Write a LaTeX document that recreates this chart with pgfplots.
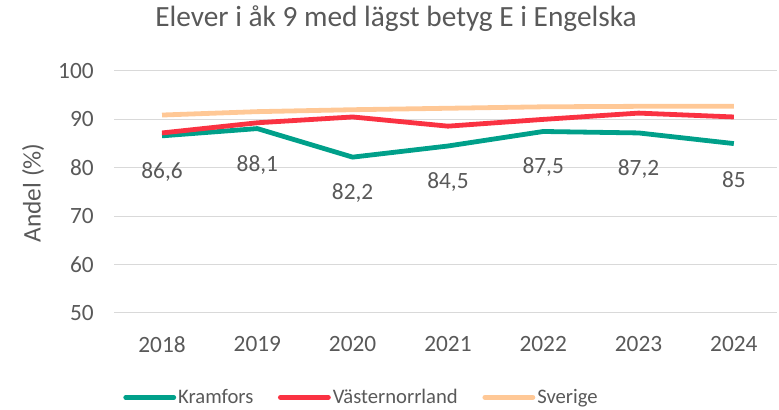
\documentclass[border=0pt]{standalone}
\usepackage{pgfplots}
\pgfplotsset{compat=1.18}
\usepackage{fontspec}
\setmainfont{Carlito}
\definecolor{kram}{RGB}{0,160,138}
\definecolor{vast}{RGB}{250,50,66}
\definecolor{sve}{RGB}{255,200,150}
\definecolor{txt}{RGB}{89,89,89}
\definecolor{gridc}{RGB}{217,217,217}
\newcommand{\tfont}{\fontsize{17.5}{20}\selectfont}
\newcommand{\lfont}{\fontsize{15.5}{18}\selectfont}
\begin{document}
\begin{tikzpicture}
\begin{axis}[
  scale only axis, width=497pt, height=181.5pt,
  xmin=-0.5, xmax=6.453, ymin=50, ymax=100,
  axis line style={draw=none},
  ytick={50,60,...,100},
  ymajorgrids, grid style={gridc, line width=0.75pt},
  xtick={0,...,6}, xticklabels={2018,2019,2020,2021,2022,2023,2024},
  major tick length=0pt,
  tick label style={font=\tfont, text=txt},
  /pgf/number format/assume math mode=true,
  yticklabel style={xshift=-12pt},
  xticklabel style={yshift=-14pt},
  ylabel={Andel (\%)},
  ylabel style={at={([xshift=-61pt]rel axis cs:0,0.496)}, anchor=center, font=\fontsize{19}{22}\selectfont, text=txt},
  title={Elever i åk 9 med lägst betyg E i Engelska},
  title style={at={([yshift=33pt]rel axis cs:0.425,1)}, anchor=center, font=\fontsize{22}{26}\selectfont, text=txt},
  legend style={at={(rel axis cs:0.373,-0.349)}, anchor=center, draw=none, fill=none,
    legend columns=3, font=\lfont, text=txt,
    nodes={inner sep=1.5pt},
    /tikz/every even column/.append style={column sep=17pt}},
  legend image code/.code={\draw[#1, line cap=round] (0pt,0pt) -- (36pt,0pt);},
  clip=false,
]
\addplot[kram, line width=3.6pt, line join=round,
  nodes near coords, point meta=explicit symbolic,
  every node near coord/.style={anchor=center, yshift=-27pt, font=\tfont, text=txt}]
  table[meta=lab] {
x y lab
0 86.6 86,6
1 88.1 88,1
2 82.2 82,2
3 84.5 84,5
4 87.5 87,5
5 87.2 87,2
6 85.0 85
};
\addlegendentry{Kramfors}
\addplot[vast, line width=3.6pt, line join=round] coordinates {
(0,87.2) (1,89.3) (2,90.5) (3,88.6) (4,90.0) (5,91.3) (6,90.5)};
\addlegendentry{Västernorrland}
\addplot[sve, line width=3.6pt, line join=round] coordinates {
(0,90.9) (1,91.6) (2,92.0) (3,92.3) (4,92.6) (5,92.7) (6,92.7)};
\addlegendentry{Sverige}
\coordinate (tl) at (rel axis cs:0,1);
\coordinate (br) at (rel axis cs:1,0);
\end{axis}
\pgfresetboundingbox
\path[use as bounding box] ([shift={(-85.8pt,53.25pt)}]tl) rectangle ([shift={(1.5pt,-72.75pt)}]br);
\end{tikzpicture}
\end{document}
